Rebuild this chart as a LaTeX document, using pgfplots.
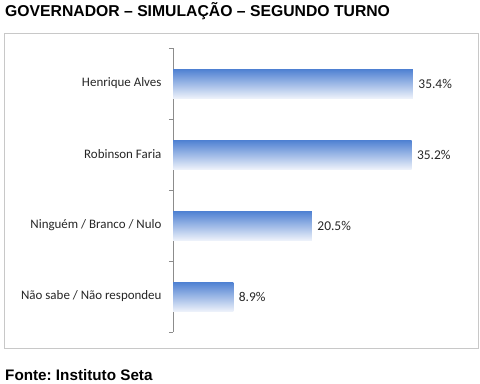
\documentclass[border=0pt]{standalone}
\usepackage{pgfplots}
\pgfplotsset{compat=1.18}
\usepackage{fontspec}
\setmainfont{Carlito}
\newfontfamily\arialfont{Liberation Sans}
\frenchspacing
\definecolor{bartop}{RGB}{78,128,210}
\definecolor{barbot}{RGB}{236,241,250}
\definecolor{framegray}{RGB}{200,200,200}
\definecolor{axisgray}{RGB}{140,140,140}
\pgfplotsset{mybar/.style={xbar, bar width=29bp, bar shift=0pt, draw=none, shading=axis, top color=bartop, bottom color=barbot,
  point meta=explicit symbolic,
  nodes near coords, every node near coord/.append style={font=\fontsize{13.5}{15}\selectfont, text=black!85, anchor=west, xshift=2bp}}}
\begin{document}
\begin{tikzpicture}
\path[use as bounding box] (0,0) rectangle (480bp,-384bp);
\draw[framegray, line width=1bp] (4bp,-33bp) rectangle (478bp,-348bp);
\node[anchor=base west, inner sep=0, font=\arialfont\bfseries\fontsize{15.8}{17}\selectfont] at (5bp,-16bp) {GOVERNADOR – SIMULAÇÃO – SEGUNDO TURNO};
\node[anchor=base west, inner sep=0, font=\arialfont\bfseries\fontsize{15.3}{17}\selectfont] at (5bp,-380bp) {Fonte: Instituto Seta};
\begin{axis}[
  at={(173bp,-332bp)}, anchor=south west,
  scale only axis, width=305bp, height=284bp,
  xmin=0, xmax=45, ymin=0.5, ymax=4.5,
  axis x line=none,
  axis y line*=left,
  axis line style={axisgray, line width=0.8bp},
  ytick={1,2,3,4},
  yticklabels={Não sabe / Não respondeu, Ninguém / Branco / Nulo, Robinson Faria, Henrique Alves},
  major tick length=0pt,
  yticklabel style={font=\fontsize{13}{15}\selectfont, text=black!85, xshift=-8bp},
  extra y ticks={0.5,1.5,2.5,3.5,4.5},
  extra y tick labels={},
  extra y tick style={major tick length=4bp, tick align=outside, tick style={axisgray, line width=0.8bp}},
  clip=false,
]
\addplot[mybar] coordinates {(8.9,1) [8.9\%]};
\addplot[mybar] coordinates {(20.5,2) [20.5\%]};
\addplot[mybar] coordinates {(35.2,3) [35.2\%]};
\addplot[mybar] coordinates {(35.4,4) [35.4\%]};
\end{axis}
\end{tikzpicture}
\end{document}
